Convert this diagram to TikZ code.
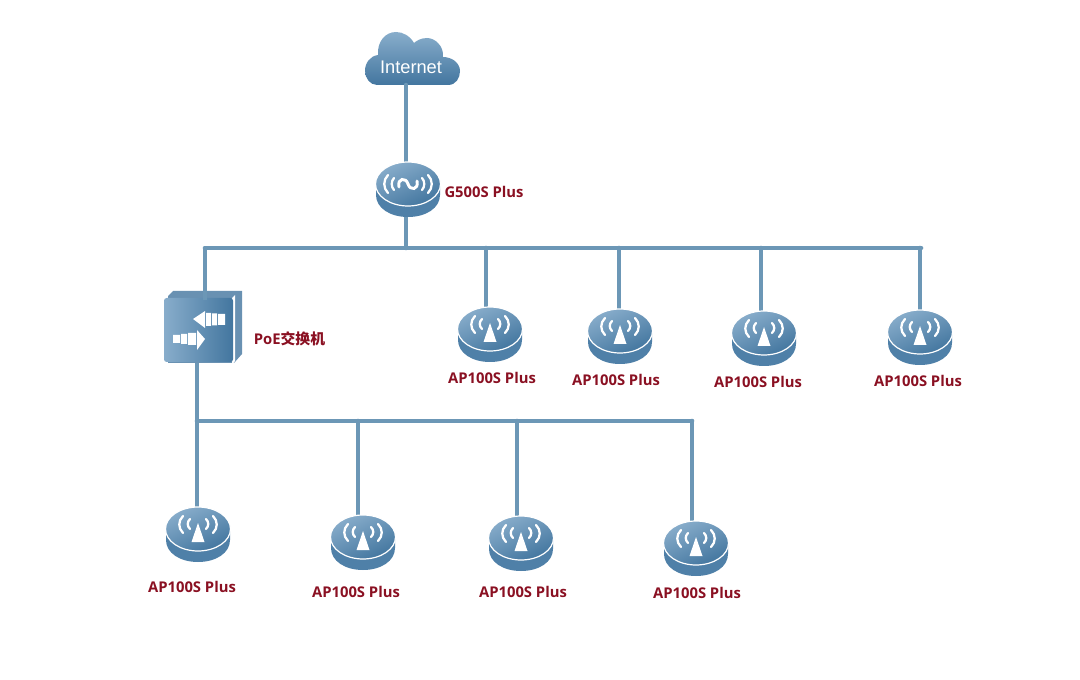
\documentclass[tikz,border=0pt]{standalone}
\usepackage{fontspec}
\setmainfont{Liberation Sans}
\newfontfamily\labelfont{Open Sans}
\newfontfamily\cjkfont{Noto Sans CJK SC}
\usetikzlibrary{calc,positioning}
\definecolor{linkblue}{HTML}{6C97B6}
\definecolor{devlight}{HTML}{88ADCB}
\definecolor{devdark}{HTML}{43769F}
\definecolor{devbase}{HTML}{4F80A8}
\definecolor{labelred}{HTML}{8A1022}
\tikzstyle{link} = [line width=3.5pt,color=linkblue,line cap=round]
\tikzstyle{slot} = [inner sep=0pt,minimum size=1pt]
\tikzstyle{devlabel} = [inner sep=0pt,text=labelred,font=\labelfont\bfseries\fontsize{11.1}{12}\selectfont]
\tikzstyle{wave} = [white,line width=1.7pt,line cap=round]
\tikzset{
  disc/.pic={
    \fill [devbase] (-32,11) -- (-32,0) -- (32,0) -- (32,11) .. controls (32,24) and (18,33) .. (0,33) .. controls (-18,33) and (-32,24) .. (-32,11) -- cycle;
    \shade [left color=devlight,right color=devdark,shading angle=25,draw=white,line width=0.9pt]
      (0,0) ellipse [x radius=32.5,y radius=22];
  },
  apdev/.pic={
    \pic {disc};
    \fill [white,line join=round] (0,-6) -- (6.5,13) -- (-6.5,13) -- cycle;
    \foreach \s in {-1,1} {
      \draw [wave] (\s*8,-10) .. controls (\s*11,-7) and (\s*11,-3) .. (\s*8,0);
      \draw [wave] (\s*15,-13) .. controls (\s*20,-8) and (\s*20,-1) .. (\s*15,4);
    }
  },
  gwdev/.pic={
    \pic {disc};
    \foreach \s in {-1,1} {
      \draw [wave] (\s*14,-6) .. controls (\s*17,-3) and (\s*17,3) .. (\s*14,6);
      \draw [wave] (\s*20,-9) .. controls (\s*25,-4) and (\s*25,4) .. (\s*20,9);
    }
    \draw [wave,line width=2.2pt] (0,0) .. controls (-2,-7) and (-11,-6) .. (-9,3);
    \draw [wave,line width=2.2pt] (0,0) .. controls (2,7) and (11,6) .. (9,-3);
  },
  swdev/.pic={
    \fill [devdark!80!white] (4,-7) -- (9,-12) -- (78,-12) -- (78,51) -- (70,60) -- (4,60) -- cycle;
    \fill [white] (68,-5) -- (71,-8) -- (71,58) -- (68,62) -- cycle;
    \shade [left color=devlight,right color=devdark,rounded corners=2pt] (0,-5) rectangle (69,59);
    \fill [white] (29,16) -- (41,8) -- (41,25) -- cycle;
    \fill [white] (42,10) rectangle (47,23) (48,10.5) rectangle (53,22.5) (54,11) rectangle (61,22);
    \fill [white] (41,36) -- (33,27) -- (33,47) -- cycle;
    \fill [white] (32,30) rectangle (24,42) (23,31) rectangle (17,41) (16,32) rectangle (9,40);
  }
}
\begin{document}
\begin{tikzpicture}[x=0.75pt,y=-0.75pt]
\useasboundingbox (0,0) rectangle (1080,680);
\shade [top color=devlight,bottom color=devdark] (377,85) -- (448,85)
  .. controls (456,85) and (460,78) .. (460,71) .. controls (460,63) and (452,57) .. (443,57)
  .. controls (444,46) and (435,38) .. (427,38) .. controls (421,38) and (416,41) .. (414,43)
  .. controls (410,36) and (403,32) .. (396,32) .. controls (385,32) and (377,42) .. (378,55)
  .. controls (370,56) and (365,63) .. (365,71) .. controls (365,78) and (370,85) .. (377,85) -- cycle;
\node (cloud) at (411,67) [inner sep=0pt,text=white,font=\fontsize{13.7}{15}\selectfont] {Internet};
\node (gw) at (408,184) [slot] {};
\node (sw) at (164,303) [slot] {};
\node (ap1) at (490,329) [slot] {};
\node (ap2) at (620,331) [slot] {};
\node (ap3) at (764,333) [slot] {};
\node (ap4) at (920,332) [slot] {};
\node (ap5) at (198,529) [slot] {};
\node (ap6) at (363,537) [slot] {};
\node (ap7) at (521,538) [slot] {};
\node (ap8) at (696,543) [slot] {};
\coordinate (top) at (406,85);
\coordinate (busa) at (406,248);
\coordinate (busal) at (205,248);
\coordinate (busar) at (921,248);
\coordinate (busbl) at (197,421);
\coordinate (busbr) at (692,421);
\coordinate (swtop) at (205,300);
% trunk and upper bus
\draw [link] (top) -- (top |- gw);
\draw [link] (top |- gw) -- (busa);
\draw [link] (busal) -- (busar);
\foreach \n/\x in {ap1/486,ap2/619,ap3/761,ap4/920} {
  \draw [link] (\x,248) -- (\x,248 |- \n);
}
% lower bus
\draw [link] (busbl |- sw) -- (busbl |- ap5);
\draw [link] (busbl) -- (busbr);
\foreach \n/\x in {ap6/358,ap7/517,ap8/692} {
  \draw [link] (\x,421) -- (\x,421 |- \n);
}
\pic at (gw) {gwdev};
\pic at (sw) {swdev};
\foreach \n in {ap1,ap2,ap3,ap4,ap5,ap6,ap7,ap8} {
  \pic at (\n) {apdev};
}
\draw [link,line cap=butt] (busal) -- (swtop);
\node (gwl) at (484,192) [devlabel] {G500S Plus};
\node (swl) at (289.5,339) [devlabel] {PoE{\cjkfont\bfseries 交换机}};
\node (l1) at (492,378) [devlabel] {AP100S Plus};
\node (l2) at (616,380) [devlabel] {AP100S Plus};
\node (l3) at (758,382) [devlabel] {AP100S Plus};
\node (l4) at (918,381) [devlabel] {AP100S Plus};
\node (l5) at (192,587) [devlabel] {AP100S Plus};
\node (l6) at (356,592) [devlabel] {AP100S Plus};
\node (l7) at (523,592) [devlabel] {AP100S Plus};
\node (l8) at (697,593) [devlabel] {AP100S Plus};
\end{tikzpicture}
\end{document}
